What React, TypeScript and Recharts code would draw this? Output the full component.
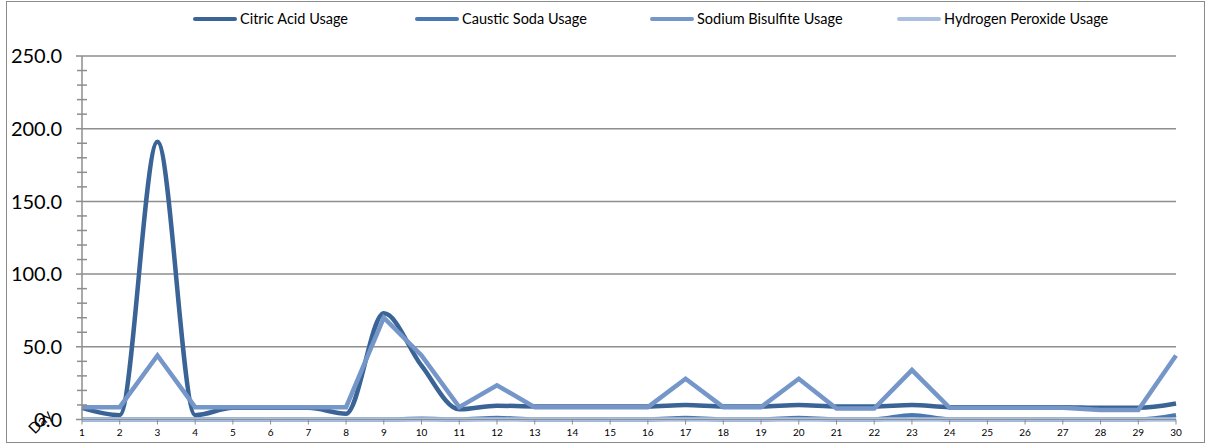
import { LineChart, Line, XAxis, YAxis, ReferenceLine, Legend } from 'recharts'

const days = ['1', '2', '3', '4', '5', '6', '7', '8', '9', '10', '11', '12', '13', '14', '15', '16', '17', '18', '19', '20', '21', '22', '23', '24', '25', '26', '27', '28', '29', '30']

const citricAcid = [8, 3, 191, 3, 8, 8, 8, 4, 73, 37, 7, 9.5, 9, 9, 9, 9, 10, 9, 9, 10, 9, 9, 10, 8.5, 8.5, 8.5, 8.5, 8, 8, 11]
const causticSoda = [0, 0, 0, 0, 0, 0, 0, 0, 0, 0.5, 0, 1, 0, 0, 0, 0, 1, 0, 0, 1, 0, 0, 3, 0, 0, 0, 0, 0, 0, 3]
const sodiumBisulfite = [8.5, 8.5, 44, 8.5, 8.5, 8.5, 8.5, 8.5, 70, 44, 8.5, 23.5, 8.5, 8.5, 8.5, 8.5, 28, 8.5, 8.5, 28, 7.5, 7.5, 34, 8, 8, 8, 8, 6.5, 6.5, 44]
const hydrogenPeroxide = [0, 0, 0, 0, 0, 0, 0, 0, 0, 0, 0, 0, 0, 0, 0, 0, 0, 0, 0, 0, 0, 0, 0, 0, 0, 0, 0, 0, 0, 0]

const yTicks = [0, 10, 20, 30, 40, 50, 60, 70, 80, 90, 100, 110, 120, 130, 140, 150, 160, 170, 180, 190, 200, 210, 220, 230, 240, 250]
const gridValues = [50, 100, 150, 200, 250]

const series = [
  { key: 'citric', name: 'Citric Acid Usage', color: '#3a6396', smooth: true },
  { key: 'caustic', name: 'Caustic Soda Usage', color: '#4a78b3', smooth: true },
  { key: 'sodium', name: 'Sodium Bisulfite Usage', color: '#7596c9', smooth: false },
  { key: 'hydrogen', name: 'Hydrogen Peroxide Usage', color: '#abc0de', smooth: false },
]

const data = days.map((day, i) => ({
  day,
  citric: citricAcid[i],
  caustic: causticSoda[i],
  sodium: sodiumBisulfite[i],
  hydrogen: hydrogenPeroxide[i],
}))

const FONT = 'Lato, "Liberation Sans", sans-serif'
const GRID = '#8e8e8e'

// legend slots, left edge of each swatch
const legendX = [193, 415, 650, 897]

function renderLegend() {
  return (
    <div style={{ position: 'relative', width: 1207, height: 40 }}>
      {series.map((s, i) => (
        <div
          key={s.key}
          style={{ position: 'absolute', left: legendX[i], top: 10, display: 'flex', alignItems: 'center', fontFamily: FONT, fontSize: 14.5, color: '#000', whiteSpace: 'nowrap' }}
        >
          <span style={{ display: 'inline-block', width: 44, height: 4, background: s.color, borderRadius: 2, marginRight: 3 }} />
          {s.name}
        </div>
      ))}
    </div>
  )
}

function YTick(props: any) {
  const { x, y, payload } = props
  const v = payload.value as number
  if (v % 50 === 0) {
    return (
      <g>
        <line x1={x - 6} x2={x} y1={y} y2={y} stroke={GRID} strokeWidth={1.5} />
        <text x={x - 20} y={y} dy="0.36em" textAnchor="end" fontFamily={FONT} fontSize={20} fill="#000">
          {v.toFixed(1)}
        </text>
      </g>
    )
  }
  return <line x1={x - 5} x2={x + 5} y1={y} y2={y} stroke={GRID} strokeWidth={1.5} />
}

function DayLabel(props: any) {
  const vb = props.viewBox || {}
  const x = (vb.x ?? 82) - 38
  const y = (vb.y ?? 420) + 6
  return (
    <text x={x} y={y} textAnchor="middle" fontFamily={FONT} fontSize={15} fill="#000" transform={`rotate(-45, ${x}, ${y})`}>
      Day
    </text>
  )
}

export default function App() {
  return (
    <div style={{ position: 'absolute', left: 0, top: 0, width: 1207, height: 446, background: '#fff' }}>
      <div style={{ position: 'absolute', left: 6, top: 1, width: 1199, height: 442, boxSizing: 'border-box', border: '1px solid #8a8a8a' }} />
      <div style={{ position: 'absolute', left: 0, top: 0 }}>
        <LineChart width={1207} height={446} data={data} margin={{ top: 16, right: 31, bottom: 0, left: 0 }}>
          <XAxis
            dataKey="day"
            interval={0}
            tickSize={5}
            tickMargin={4}
            height={26.5}
            stroke={GRID}
            tick={{ fontFamily: FONT, fontSize: 10, fill: '#000' }}
            label={<DayLabel />}
          />
          <YAxis
            domain={[0, 250]}
            ticks={yTicks}
            interval={0}
            width={82}
            tickSize={0}
            tickMargin={0}
            tickLine={false}
            stroke={GRID}
            axisLine={{ stroke: GRID, strokeWidth: 1.5 }}
            tick={<YTick />}
          />
          {gridValues.map((v) => (
            <ReferenceLine key={v} y={v} stroke={GRID} strokeWidth={1.5} />
          ))}
          <Legend verticalAlign="top" align="left" content={renderLegend} wrapperStyle={{ top: 0, left: 0, width: 1207, height: 40 }} />
          {series.map((s) => (
            <Line
              key={s.key}
              dataKey={s.key}
              name={s.name}
              type={s.smooth ? 'monotone' : 'linear'}
              stroke={s.color}
              strokeWidth={4.5}
              dot={false}
              activeDot={false}
              isAnimationActive={false}
            />
          ))}
        </LineChart>
      </div>
    </div>
  )
}
